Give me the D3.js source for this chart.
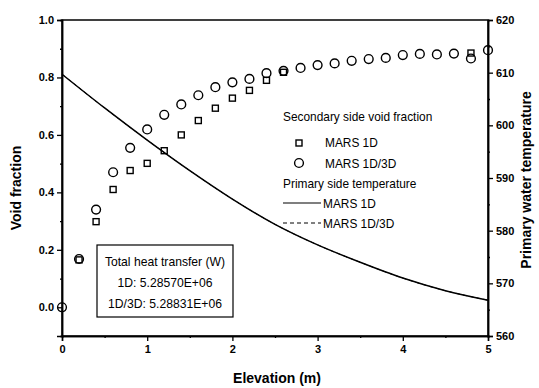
<!DOCTYPE html>
<html>
<head>
<meta charset="utf-8">
<script src="https://cdn.jsdelivr.net/npm/d3@7"></script>
<style>
  body { margin: 0; background: #fff; }
  svg { display: block; }
  .tick text { font-family: "Liberation Sans", Arial, sans-serif; font-weight: bold; font-size: 11px; fill: #000; }
  .narrow { font-family: "Liberation Sans", Arial, sans-serif; font-size: 13.5px; fill: #000; }
  .title { font-family: "Liberation Sans", Arial, sans-serif; font-weight: bold; font-size: 14px; fill: #000; }
</style>
</head>
<body>
<div id="chart"></div>
<script>
// Void fraction (left axis) by elevation
var voidElev3D = [0, 0.2, 0.4, 0.6, 0.8, 1.0, 1.2, 1.4, 1.6, 1.8, 2.0, 2.2, 2.4, 2.6, 2.8, 3.0, 3.2, 3.4, 3.6, 3.8, 4.0, 4.2, 4.4, 4.6, 4.8, 5.0];
var void3D = [0.0, 0.168, 0.34, 0.47, 0.555, 0.619, 0.67, 0.706, 0.738, 0.766, 0.783, 0.795, 0.815, 0.823, 0.833, 0.843, 0.849, 0.858, 0.864, 0.868, 0.878, 0.882, 0.880, 0.883, 0.866, 0.895];
var voidElev1D = [0.2, 0.4, 0.6, 0.8, 1.0, 1.2, 1.4, 1.6, 1.8, 2.0, 2.2, 2.4, 2.6, 4.8];
var void1D = [0.165, 0.298, 0.41, 0.476, 0.501, 0.545, 0.6, 0.65, 0.693, 0.728, 0.755, 0.79, 0.818, 0.885];

// Primary water temperature (right axis)
var tempElev = [0, 0.5, 1.0, 1.5, 2.0, 2.5, 3.0, 3.5, 4.0, 4.5, 5.0];
var temp1D = [609.7, 603.3, 597.2, 591.4, 586.0, 581.2, 577.3, 574.0, 571.0, 568.6, 566.8];
var temp3D = [609.7, 603.3, 597.2, 591.4, 586.0, 581.2, 577.3, 574.0, 571.0, 568.6, 566.8];

var leftTicks = [0.0, 0.2, 0.4, 0.6, 0.8, 1.0];
var leftMinor = [0.1, 0.3, 0.5, 0.7, 0.9];
var rightTicks = [560, 570, 580, 590, 600, 610, 620];
var rightMinor = [565, 575, 585, 595, 605, 615];
var xTicks = [0, 1, 2, 3, 4, 5];
var xMinor = [0.5, 1.5, 2.5, 3.5, 4.5];

var heatLines = ["Total heat transfer (W)", "1D: 5.28570E+06", "1D/3D: 5.28831E+06"];

var width = 539,
    height = 388,
    margin = { left: 62, right: 51, top: 20, bottom: 52 };

var svg = d3.select("#chart").append("svg")
    .attr("width", width)
    .attr("height", height);

var x = d3.scaleLinear().domain([0, 5]).range([margin.left, width - margin.right]);
var yL = d3.scaleLinear().domain([-0.1, 1.0]).range([height - margin.bottom, margin.top]);
var yR = d3.scaleLinear().domain([560, 620]).range([height - margin.bottom, margin.top]);

// squeeze text so it looks like the condensed face in the original
function squeeze(sel, k) {
    sel.each(function () {
        var w = this.getComputedTextLength();
        d3.select(this).attr("textLength", w * k).attr("lengthAdjust", "spacingAndGlyphs");
    });
}

// frame
svg.append("rect")
    .attr("x", margin.left)
    .attr("y", margin.top)
    .attr("width", width - margin.left - margin.right)
    .attr("height", height - margin.top - margin.bottom)
    .attr("fill", "none")
    .attr("stroke", "#000")
    .attr("stroke-width", 1.5);

// axes
svg.append("g").attr("transform", "translate(" + margin.left + ",0)")
    .call(d3.axisLeft(yL).tickValues(leftTicks).tickSize(5).tickPadding(3).tickFormat(d3.format(".1f")));
svg.append("g").attr("transform", "translate(" + margin.left + ",0)")
    .call(d3.axisLeft(yL).tickValues(leftMinor).tickSize(2).tickFormat(""));

svg.append("g").attr("transform", "translate(" + (width - margin.right) + ",0)")
    .call(d3.axisRight(yR).tickValues(rightTicks).tickSize(5).tickPadding(3));
svg.append("g").attr("transform", "translate(" + (width - margin.right) + ",0)")
    .call(d3.axisRight(yR).tickValues(rightMinor).tickSize(2).tickFormat(""));

svg.append("g").attr("transform", "translate(0," + (height - margin.bottom) + ")")
    .call(d3.axisBottom(x).tickValues(xTicks).tickSize(5).tickPadding(4).tickFormat(d3.format("d")));
svg.append("g").attr("transform", "translate(0," + (height - margin.bottom) + ")")
    .call(d3.axisBottom(x).tickValues(xMinor).tickSize(2).tickFormat(""));

svg.selectAll(".domain").attr("stroke", "#000").attr("stroke-width", 1.5);
svg.selectAll(".tick line").attr("stroke", "#000").attr("stroke-width", 1.3);

// axis titles
svg.append("text").attr("class", "title")
    .attr("transform", "translate(21,188) rotate(-90)")
    .attr("text-anchor", "middle")
    .text("Void fraction");
svg.append("text").attr("class", "title")
    .attr("transform", "translate(531,180) rotate(-90)")
    .attr("text-anchor", "middle")
    .text("Primary water temperature");
svg.append("text").attr("class", "title")
    .attr("x", 277).attr("y", 383)
    .attr("text-anchor", "middle")
    .text("Elevation (m)");

// temperature lines
var line = d3.line()
    .x(function (d) { return x(d[0]); })
    .y(function (d) { return yR(d[1]); })
    .curve(d3.curveMonotoneX);

svg.append("path")
    .datum(d3.zip(tempElev, temp3D))
    .attr("d", line)
    .attr("fill", "none")
    .attr("stroke", "#000")
    .attr("stroke-width", 1)
    .attr("stroke-dasharray", "4,3");

svg.append("path")
    .datum(d3.zip(tempElev, temp1D))
    .attr("d", line)
    .attr("fill", "none")
    .attr("stroke", "#000")
    .attr("stroke-width", 1.5);

// void fraction markers
svg.selectAll(".sq")
    .data(d3.zip(voidElev1D, void1D))
    .enter().append("rect")
    .attr("class", "sq")
    .attr("x", function (d) { return x(d[0]) - 3; })
    .attr("y", function (d) { return yL(d[1]) - 3; })
    .attr("width", 6)
    .attr("height", 6)
    .attr("fill", "none")
    .attr("stroke", "#000")
    .attr("stroke-width", 1.4);

svg.selectAll(".ci")
    .data(d3.zip(voidElev3D, void3D))
    .enter().append("circle")
    .attr("class", "ci")
    .attr("cx", function (d) { return x(d[0]); })
    .attr("cy", function (d) { return yL(d[1]); })
    .attr("r", 4.4)
    .attr("fill", "none")
    .attr("stroke", "#000")
    .attr("stroke-width", 1.4);

// legend
var legend = svg.append("g");
legend.append("text").attr("class", "narrow").attr("x", 283).attr("y", 121).text("Secondary side void fraction");
legend.append("rect").attr("x", 296).attr("y", 140).attr("width", 6).attr("height", 6)
    .attr("fill", "none").attr("stroke", "#000").attr("stroke-width", 1.4);
legend.append("text").attr("class", "narrow").attr("x", 325).attr("y", 147).text("MARS 1D");
legend.append("circle").attr("cx", 299).attr("cy", 163).attr("r", 4.4)
    .attr("fill", "none").attr("stroke", "#000").attr("stroke-width", 1.4);
legend.append("text").attr("class", "narrow").attr("x", 325).attr("y", 168).text("MARS 1D/3D");
legend.append("text").attr("class", "narrow").attr("x", 283).attr("y", 188).text("Primary side temperature");
legend.append("line").attr("x1", 283).attr("x2", 321).attr("y1", 203).attr("y2", 203)
    .attr("stroke", "#000").attr("stroke-width", 1.2);
legend.append("text").attr("class", "narrow").attr("x", 323).attr("y", 208).text("MARS 1D");
legend.append("line").attr("x1", 283).attr("x2", 321).attr("y1", 223).attr("y2", 223)
    .attr("stroke", "#000").attr("stroke-width", 1).attr("stroke-dasharray", "4,3");
legend.append("text").attr("class", "narrow").attr("x", 323).attr("y", 228).text("MARS 1D/3D");
squeeze(legend.selectAll("text"), 0.88);

// heat transfer box
svg.append("rect")
    .attr("x", 97).attr("y", 245).attr("width", 136).attr("height", 72)
    .attr("fill", "#fff").attr("stroke", "#000").attr("stroke-width", 1.2);
svg.selectAll(".heat")
    .data(heatLines)
    .enter().append("text")
    .attr("class", "narrow heat")
    .attr("x", 165)
    .attr("y", function (d, i) { return 266 + i * 21; })
    .attr("text-anchor", "middle")
    .text(function (d) { return d; })
    .call(squeeze, 0.9);
</script>
</body>
</html>
